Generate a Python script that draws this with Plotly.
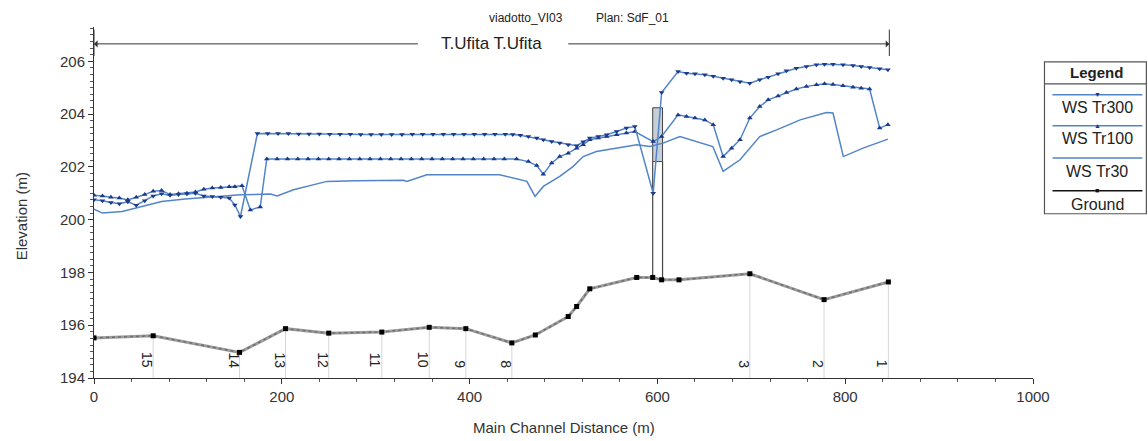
import plotly.graph_objects as go

# ---------------- data ----------------
ground_x = [0, 63, 155, 204, 250, 306.5, 357, 396, 445, 470, 505, 514, 528, 578, 595, 604.5, 623, 698.5, 777.5, 846]
ground_y = [195.52, 195.60, 194.97, 195.87, 195.70, 195.74, 195.92, 195.87, 195.33, 195.63, 196.33, 196.71,
            197.38, 197.81, 197.81, 197.72, 197.72, 197.95, 196.97, 197.64]

station_labels = ['15', '14', '13', '12', '11', '10', '9', '8', '3', '2', '1']
station_x = [63, 155, 204, 250, 306.5, 357, 396, 445, 698.5, 777.5, 846]
station_ground = [195.60, 194.97, 195.87, 195.70, 195.74, 195.92, 195.87, 195.33, 197.95, 196.97, 197.64]

tr300_x = [0, 9, 18, 27, 36, 45, 54, 63, 72, 81, 90, 99, 108, 117, 126, 135, 144, 150, 156,
           174, 185, 196, 207, 218, 229, 240, 251, 262, 273, 284, 295, 306, 317, 328, 339, 350, 361, 372,
           383, 394, 405, 416, 427, 438, 446, 454, 462.6, 471.5, 478.5, 487.4, 496, 505, 514, 521, 528,
           537, 546, 556.6, 567, 576, 595.5, 604.5, 622, 631, 640, 650.5, 659.4, 670, 679, 688, 698.4,
           709, 718, 728.5, 737.4, 748, 758.7, 769.4, 778, 787, 797.7, 808.3, 817, 826, 836.7, 845.5]
tr300_y = [200.75, 200.72, 200.65, 200.60, 200.68, 200.55, 200.72, 200.90, 200.98, 200.92, 200.95, 200.98,
           201.00, 200.90, 200.88, 200.85, 200.82, 200.56, 200.12,
           203.26, 203.26, 203.26, 203.26, 203.25, 203.25, 203.25, 203.24, 203.24, 203.24, 203.23, 203.23,
           203.23, 203.23, 203.23, 203.24, 203.24, 203.24, 203.24, 203.24, 203.24, 203.24, 203.24, 203.24,
           203.24, 203.23, 203.20, 203.15, 203.09, 203.03, 202.96, 202.90, 202.84, 202.80, 202.95, 203.09,
           203.15, 203.22, 203.34, 203.47, 203.53, 201.00, 204.82, 205.61, 205.55, 205.53, 205.49, 205.43,
           205.36, 205.30, 205.23, 205.17, 205.30, 205.40, 205.53, 205.64, 205.74, 205.80, 205.87, 205.89,
           205.89, 205.87, 205.84, 205.80, 205.77, 205.72, 205.68]

tr100_x = [0, 9, 18, 27, 36, 45, 54, 63, 72, 81, 90, 99, 108, 117, 126, 135, 144, 150, 157.6, 166.5, 177,
           184, 195, 206, 217, 228, 239, 250, 261, 272, 283, 294, 305, 316, 327, 338, 349, 360, 371, 382,
           393, 404, 415, 426, 437, 450, 462.6, 471.5, 478.5, 487.4, 496, 505, 514, 521, 528, 537, 546,
           556.6, 567, 576, 595.5, 604.5, 622, 631, 640, 650.5, 659.4, 670, 679, 688, 698.4, 709, 718,
           728.5, 737.4, 748, 758.7, 769.4, 778, 787, 797.7, 808.3, 817, 826, 836.7, 845.5]
tr100_y = [200.92, 200.90, 200.85, 200.82, 200.75, 200.85, 200.95, 201.08, 201.10, 200.95, 200.98, 201.00,
           201.05, 201.15, 201.20, 201.22, 201.25, 201.25, 201.28, 200.37, 200.48,
           202.30, 202.30, 202.30, 202.30, 202.30, 202.30, 202.30, 202.30, 202.30, 202.30, 202.30, 202.30,
           202.30, 202.30, 202.30, 202.30, 202.30, 202.30, 202.30, 202.30, 202.30, 202.30, 202.30, 202.30,
           202.30, 202.20, 202.05, 201.72, 202.15, 202.39, 202.52, 202.71, 202.84, 203.03, 203.09, 203.15,
           203.22, 203.28, 203.34, 202.96, 203.15, 203.97, 203.91, 203.85, 203.78, 203.60, 202.39, 202.71,
           203.03, 203.85, 204.29, 204.54, 204.69, 204.82, 204.95, 205.05, 205.11, 205.15, 205.12, 205.07,
           205.02, 204.98, 204.95, 203.47, 203.60]

tr30_x = [0, 9, 30, 51, 72, 97, 129, 156, 188, 195, 212.5, 234, 248, 279, 329.6, 333, 354.5, 422, 432,
          461, 469.7, 478.5, 496, 510, 521, 535, 556.6, 578, 592, 606, 624, 659, 670, 688, 709, 727, 752,
          780, 787, 798, 819, 845.5]
tr30_y = [200.40, 200.25, 200.31, 200.50, 200.69, 200.78, 200.88, 200.94, 200.97, 200.90, 201.13, 201.32,
          201.45, 201.47, 201.49, 201.45, 201.70, 201.70, 201.70, 201.45, 200.88, 201.26, 201.64, 202.01,
          202.39, 202.58, 202.71, 202.84, 202.77, 202.90, 203.15, 202.77, 201.83, 202.27, 203.15, 203.40,
          203.78, 204.06, 204.04, 202.39, 202.71, 203.05]

bridge_x = [595.0, 605.5]
bridge_ground = [197.81, 197.72]
bridge_low_chord = 202.2
bridge_high_chord = 204.24

reach_start, reach_end = 0, 847
reach_label = 'T.Ufita T.Ufita'
reach_y = 206.66

x_ticks = [0, 200, 400, 600, 800, 1000]
y_ticks = [194, 196, 198, 200, 202, 204, 206]

# ---------------- styles ----------------
WS_LINE = '#5284c8'
WS_MARK = '#1c3a8c'
GROUND_LINE = '#9c9c9c'
FONT = 'Liberation Sans, Arial, sans-serif'
NARROW = 'Liberation Sans Narrow, Arial Narrow, Liberation Sans, Arial, sans-serif'

fig = go.Figure()

# station vertical guide lines
vx, vy = [], []
for sx, sg in zip(station_x, station_ground):
    vx += [sx, sx, None]
    vy += [194, sg, None]
fig.add_trace(go.Scatter(x=vx, y=vy, mode='lines', line=dict(color='#d6d6d6', width=1),
                         hoverinfo='skip', showlegend=False))

# bridge
deck_x = [bridge_x[0], bridge_x[1], bridge_x[1], bridge_x[0], bridge_x[0]]
deck_y = [bridge_low_chord, bridge_low_chord, bridge_high_chord, bridge_high_chord, bridge_low_chord]
fig.add_trace(go.Scatter(x=deck_x, y=deck_y, mode='lines', fill='toself', fillcolor='#c5cfd9',
                         line=dict(color='#444444', width=1), hoverinfo='skip', showlegend=False))
fig.add_trace(go.Scatter(x=[bridge_x[0], bridge_x[0], None, bridge_x[1], bridge_x[1]],
                         y=[bridge_ground[0], bridge_low_chord, None, bridge_ground[1], bridge_low_chord],
                         mode='lines', line=dict(color='#444444', width=1.2),
                         hoverinfo='skip', showlegend=False))

# ground
fig.add_trace(go.Scatter(x=ground_x, y=ground_y, mode='lines', line=dict(color=GROUND_LINE, width=3),
                         showlegend=False, hoverinfo='skip'))
fig.add_trace(go.Scatter(x=ground_x, y=ground_y, mode='lines+markers',
                         line=dict(color='#6f6f6f', width=1.5, dash='dot'),
                         marker=dict(symbol='square', size=5, color='black'),
                         name='Ground', showlegend=False))

# water surfaces
fig.add_trace(go.Scatter(x=tr30_x, y=tr30_y, mode='lines', line=dict(color=WS_LINE, width=1.5),
                         name='WS Tr30', showlegend=False))
fig.add_trace(go.Scatter(x=tr100_x, y=tr100_y, mode='lines+markers', line=dict(color=WS_LINE, width=1.5),
                         marker=dict(symbol='triangle-up', size=5, color=WS_MARK),
                         name='WS Tr100', showlegend=False))
fig.add_trace(go.Scatter(x=tr300_x, y=tr300_y, mode='lines+markers', line=dict(color=WS_LINE, width=1.5),
                         marker=dict(symbol='triangle-down', size=5, color=WS_MARK),
                         name='WS Tr300', showlegend=False))

annotations = []
shapes = []

# station labels
for lab, sx in zip(station_labels, station_x):
    annotations.append(dict(x=sx, y=194.3, xref='x', yref='y', text=lab, showarrow=False,
                            textangle=90, yanchor='bottom', xanchor='center', xshift=-6,
                            font=dict(family=FONT, size=14, color='#222')))

# reach arrows
mid = (reach_start + reach_end) / 2
annotations.append(dict(x=reach_start, y=reach_y, ax=mid - 77, ay=reach_y, xref='x', yref='y',
                        axref='x', ayref='y', text='', showarrow=True, arrowhead=1, arrowsize=1.2,
                        arrowwidth=1, arrowcolor='#333'))
annotations.append(dict(x=reach_end, y=reach_y, ax=mid + 80, ay=reach_y, xref='x', yref='y',
                        axref='x', ayref='y', text='', showarrow=True, arrowhead=1, arrowsize=1.2,
                        arrowwidth=1, arrowcolor='#333'))
annotations.append(dict(x=mid, y=reach_y, xref='x', yref='y', text=reach_label, showarrow=False,
                        xanchor='center', yanchor='middle',
                        font=dict(family=NARROW, size=17, color='#222')))
for ex in (reach_start, reach_end):
    shapes.append(dict(type='line', xref='x', yref='y', x0=ex, x1=ex, y0=206.2, y1=207.2,
                       line=dict(color='#333', width=1)))

# title
def px2paper_x(px):
    return (px - 93.5) / 940.0

def px2paper_y(py):
    return (378.3 - py) / 351.1

def note(px, py, text, **kw):
    d = dict(x=px2paper_x(px), y=px2paper_y(py), xref='paper', yref='paper', text=text,
             showarrow=False, xanchor='center', yanchor='middle')
    d.update(kw)
    annotations.append(d)

note(526, 18, 'viadotto_VI03', font=dict(family=NARROW, size=12, color='#222'))
note(633, 18, 'Plan: SdF_01', font=dict(family=NARROW, size=12, color='#222'))

# axis titles
note(21, 217, 'Elevation (m)', textangle=-90, font=dict(family=FONT, size=15, color='#333'))
note(564, 428, 'Main Channel Distance (m)', font=dict(family=FONT, size=15, color='#333'))

# custom legend
lx0, lx1 = px2paper_x(1045), px2paper_x(1147)
shapes.append(dict(type='rect', xref='paper', yref='paper', x0=lx0, x1=lx1,
                   y0=px2paper_y(214), y1=px2paper_y(62), line=dict(color='#555', width=1.2)))
shapes.append(dict(type='line', xref='paper', yref='paper', x0=lx0, x1=lx1,
                   y0=px2paper_y(84), y1=px2paper_y(84), line=dict(color='#555', width=1.2)))
note(1097, 73, '<b>Legend</b>', font=dict(family=FONT, size=15, color='#222'))
sx0, sx1 = px2paper_x(1053), px2paper_x(1143)
legend_items = [('WS Tr300', 95, 107.7, WS_LINE, '▼', WS_MARK),
                ('WS Tr100', 126, 138.3, WS_LINE, '▲', WS_MARK),
                ('WS Tr30', 158.3, 171.7, WS_LINE, '', WS_MARK),
                ('Ground', 191, 205, '#111', '■', '#111')]
for name, ly, ty, lc, sym, mc in legend_items:
    shapes.append(dict(type='line', xref='paper', yref='paper', x0=sx0, x1=sx1,
                       y0=px2paper_y(ly), y1=px2paper_y(ly), line=dict(color=lc, width=1.5)))
    if sym:
        note(1098, ly, sym, font=dict(size=7, color=mc))
    note(1098, ty, name, font=dict(family=FONT, size=16, color='#222'))

fig.update_layout(
    width=1148, height=441,
    margin=dict(l=93.5, r=114.5, t=27.2, b=62.7),
    paper_bgcolor='white', plot_bgcolor='white',
    showlegend=False,
    annotations=annotations, shapes=shapes,
    font=dict(family=FONT, color='#333'),
    xaxis=dict(range=[0, 1000], tickvals=x_ticks, showgrid=False, zeroline=False,
               showline=True, linecolor='#333', linewidth=1, ticks='outside', ticklen=5,
               tickcolor='#333', tickfont=dict(size=15, color='#333'),
               minor=dict(dtick=40, ticks='outside', ticklen=3, tickcolor='#555', showgrid=False)),
    yaxis=dict(range=[194, 207.3], tickvals=y_ticks, showgrid=False, zeroline=False,
               showline=True, linecolor='#333', linewidth=1, ticks='outside', ticklen=5,
               tickcolor='#333', tickfont=dict(size=15, color='#333'),
               minor=dict(tick0=194, dtick=0.25, ticks='outside', ticklen=3, tickcolor='#555',
                          showgrid=False)),
)

fig.write_html('out.html')
